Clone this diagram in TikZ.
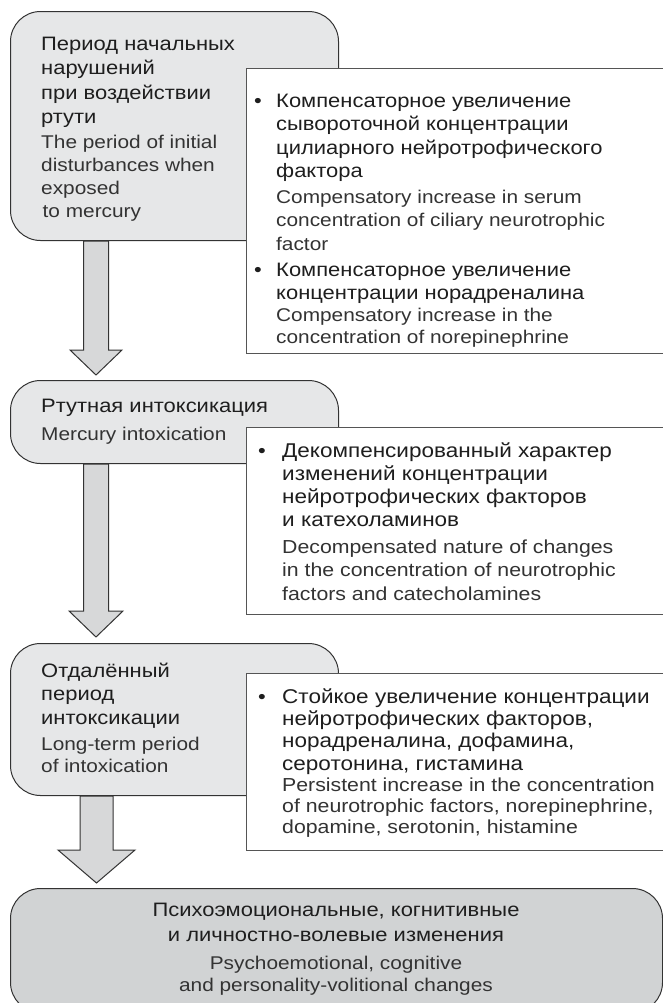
\documentclass[tikz,border=0pt]{standalone}
\usepackage{fontspec}
\setmainfont{Liberation Sans}[FakeStretch=1.13]
\usetikzlibrary{calc}
\definecolor{rucol}{HTML}{1E1E1E}
\definecolor{encol}{HTML}{333333}
\definecolor{boxfill}{HTML}{E6E7E8}
\definecolor{endfill}{HTML}{D1D3D4}
\definecolor{arrfill}{HTML}{D7D8D9}
\definecolor{boxline}{HTML}{333333}
\definecolor{wline}{HTML}{555555}
\newcommand\blkarrow[7]{%
  \draw[arrowbox] let \p1=(#1.south -| #3), \p2=(#2.north -| #3) in
    (\x1-#4,\y1) -- (\x1-#4,\y2+#7+#6) -- (\x1-#5,\y2+#7+#6) -- (\x1,\y2+#7)
    -- (\x1+#5,\y2+#7+#6) -- (\x1+#4,\y2+#7+#6) -- (\x1+#4,\y1) -- cycle;}
\tikzset{
  graybox/.style={draw=boxline, fill=boxfill, line width=1bp, rounded corners=30bp,
    anchor=north west, inner sep=0pt},
  endbox/.style={graybox, fill=endfill},
  whitebox/.style={draw=wline, fill=white, line width=1.4bp, anchor=north west, inner sep=0pt},
  arrowbox/.style={draw=boxline, fill=arrfill, line width=1bp, line join=miter},
  ru/.style={font=\fontsize{19.5}{23.5}\selectfont, text=rucol, align=left, inner sep=0pt, anchor=base west},
  en/.style={font=\fontsize{18.5}{23.5}\selectfont, text=encol, align=left, inner sep=0pt, anchor=base west},
  rub/.style={ru, font=\fontsize{20}{23}\selectfont},
  enb/.style={en, font=\fontsize{18.9}{23.5}\selectfont},
  bul/.style={font=\fontsize{19.5}{23.5}\selectfont, text=rucol, inner sep=0pt, anchor=base},
}
\begin{document}
\begin{tikzpicture}[x=1bp,y=-1bp]
\useasboundingbox (0,0) rectangle (663,1003);
% boxes
\node[graybox, minimum width=328bp, minimum height=229bp] (p1) at (10,11) {};
\node[whitebox, minimum width=424bp, minimum height=285bp] (c1) at (246,68) {};
\node[graybox, minimum width=328bp, minimum height=83bp] (p2) at (10,380) {};
\node[whitebox, minimum width=424bp, minimum height=187bp] (c2) at (246,427) {};
\node[graybox, minimum width=328bp, minimum height=152bp] (p3) at (10,643) {};
\node[whitebox, minimum width=424bp, minimum height=177bp] (c3) at (246,673) {};
\node[endbox, minimum width=652bp, minimum height=124bp] (p4) at (10,888) {};
% arrows
\coordinate (ax1) at (96,0);
\coordinate (ax3) at (96.5,0);
\blkarrow{p1}{p2}{ax1}{12.5bp}{26bp}{25bp}{5bp}
\blkarrow{p2}{p3}{ax1}{12.5bp}{27bp}{26bp}{6bp}
\blkarrow{p3}{p4}{ax3}{16.5bp}{38.5bp}{33bp}{5bp}
% box 1 (nodes are anchored at the baseline of their last line)
\node[ru, font=\fontsize{19.5}{24.5}\selectfont] (t1r) at (41,123.5) {Период начальных\\нарушений\\при воздействии\\ртути};
\node[en, font=\fontsize{18.5}{23}\selectfont] (t1e) at (41,217) {The period of initial\\disturbances when\\exposed\\\hspace*{1.5bp}to mercury};
\node[bul] (b1a) at (258,107) {•};
\node[ru] (c1r1) at (276,177.5) {Компенсаторное увеличение\\сывороточной концентрации\\цилиарного нейротрофического\\фактора};
\node[en] (c1e1) at (276,250) {Compensatory increase in serum\\concentration of ciliary neurotrophic\\factor};
\node[bul] (b1b) at (258,276) {•};
\node[ru] (c1r2) at (276,299.5) {Компенсаторное увеличение\\концентрации норадреналина};
\node[en, font=\fontsize{18.5}{22.5}\selectfont] (c1e2) at (276,343.5) {Compensatory increase in the\\concentration of norepinephrine};
% box 2
\node[ru] (t2r) at (41,412) {Ртутная интоксикация};
\node[en] (t2e) at (41,440) {Mercury intoxication};
\node[bul] (b2) at (262,457) {•};
\node[rub] (c2r) at (282,526) {Декомпенсированный характер\\изменений концентрации\\нейротрофических факторов\\и катехоламинов};
\node[enb] (c2e) at (282,600) {Decompensated nature of changes\\in the concentration of neurotrophic\\factors and catecholamines};
% box 3
\node[ru] (t3r) at (41,724) {Отдалённый\\период\\интоксикации};
\node[en, font=\fontsize{18.5}{22.5}\selectfont] (t3e) at (41,772.5) {Long-term period\\of intoxication};
\node[bul] (b3) at (262,703) {•};
\node[rub, font=\fontsize{20}{22.3}\selectfont] (c3r) at (282,770) {Стойкое увеличение концентрации\\нейротрофических факторов,\\норадреналина, дофамина,\\серотонина, гистамина};
\node[enb, font=\fontsize{18.9}{21}\selectfont] (c3e) at (282,833) {Persistent increase in the concentration\\of neurotrophic factors, norepinephrine,\\dopamine, serotonin, histamine};
% box 4
\node[ru, align=center, anchor=base, font=\fontsize{19.5}{25}\selectfont] (t4r) at (336,941) {Психоэмоциональные, когнитивные\\и личностно-волевые изменения};
\node[en, align=center, anchor=base, font=\fontsize{18.5}{22}\selectfont] (t4e) at (336,991) {Psychoemotional, cognitive\\and personality-volitional changes};
\end{tikzpicture}
\end{document}
